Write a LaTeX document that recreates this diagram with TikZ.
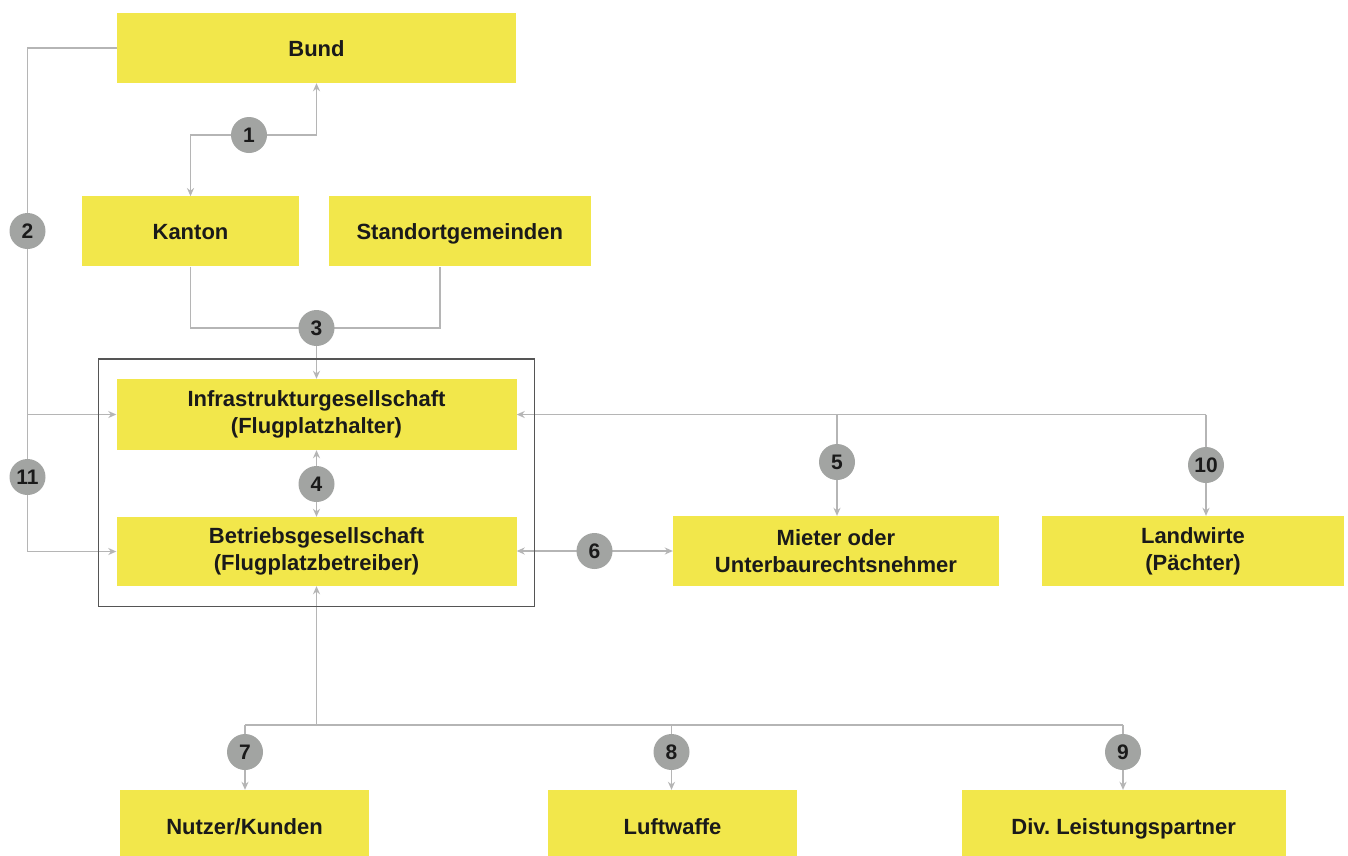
\documentclass[tikz,border=0pt]{standalone}
\usepackage{fontspec}
\setmainfont{Liberation Sans}
\usetikzlibrary{arrows.meta,fit}
\definecolor{boxy}{HTML}{F2E74B}
\definecolor{circg}{HTML}{A2A4A2}
\definecolor{lineg}{HTML}{B5B5B5}
\definecolor{txt}{HTML}{1A1A1A}
\definecolor{frameg}{HTML}{555555}
\pgfdeclarelayer{bg}
\pgfdeclarelayer{paper}
\pgfsetlayers{paper,bg,main}
\tikzset{
  ybox/.style={fill=boxy, draw=none, text=txt, align=center, inner sep=0pt,
    font=\fontsize{22}{27}\selectfont\bfseries},
  oneline/.style={text height=20pt, text depth=3.5pt},
  num/.style={circle, fill=circg, minimum size=36pt, inner sep=0pt, text=txt,
    font=\fontsize{21}{21}\selectfont\bfseries},
  conn/.style={draw=lineg, line width=1.4pt},
  arr/.style={-{Stealth[length=8pt,width=7pt]}},
  frm/.style={draw=frameg, line width=1.4pt, inner xsep=18pt, inner ysep=20pt}
}
\begin{document}
\begin{tikzpicture}[x=1pt,y=-1pt]
\clip (0,0) rectangle (1348,855);
\begin{pgfonlayer}{paper}
\fill[white] (0,0) rectangle (1348,855);
\end{pgfonlayer}
% boxes
\node[ybox, oneline, minimum width=399pt, minimum height=70pt] (bund) at (316.5,48) {Bund};
\node[ybox, oneline, minimum width=217pt, minimum height=70pt] (kanton) at (190.5,231.3) {Kanton};
\node[ybox, oneline, minimum width=262pt, minimum height=70pt] (stand) at (459.8,231.3) {Standortgemeinden};
\node[ybox, minimum width=400pt, minimum height=71pt] (infra) at (316.5,414.5) {Infrastrukturgesellschaft\\(Flugplatzhalter)};
\node[ybox, minimum width=400pt, minimum height=69pt] (betr) at (316.5,551.5) {Betriebsgesellschaft\\(Flugplatzbetreiber)};
\node[ybox, minimum width=326pt, minimum height=70pt] (mieter) at (836,551) {Mieter oder\\Unterbaurechtsnehmer};
\node[ybox, minimum width=302pt, minimum height=70pt] (land) at (1193,551) {Landwirte\\(Pächter)};
\node[ybox, oneline, minimum width=249pt, minimum height=72pt] (nutzer) at (244.5,826) {Nutzer/Kunden};
\node[ybox, oneline, minimum width=249pt, minimum height=72pt] (luft) at (672.5,826) {Luftwaffe};
\node[ybox, oneline, minimum width=324pt, minimum height=72pt] (div) at (1123.7,826) {Div.\ Leistungspartner};
\node[frm, fit=(infra)(betr)] (frame) {};
% numbered circles
\node[num] (c1) at (249,135) {1};
\node[num] (c2) at (27.5,231) {2};
\node[num] (c3) at (316.5,328) {3};
\node[num] (c4) at (316.5,484) {4};
\node[num] (c5) at (837,462) {5};
\node[num] (c6) at (594.5,551) {6};
\node[num] (c7) at (245,752) {7};
\node[num] (c8) at (671.5,752) {8};
\node[num] (c9) at (1123,752) {9};
\node[num] (c10) at (1206,465) {10};
\node[num] (c11) at (27.5,477) {11};
\coordinate (bus) at (316.5,725);
% connectors
\begin{pgfonlayer}{bg}
\draw[conn,arr] (bund.west) -| (c11.center) |- (betr.west);
\draw[conn,arr] (c2.center |- infra.west) -- (infra.west);
\draw[conn,arr] (c1.center) -| (kanton.north);
\draw[conn,arr] (c1.center) -| (bund.south);
\draw[conn] (kanton.south) |- (c3.center) -| ([xshift=-20pt]stand.south);
\draw[conn,arr] (c3.center) -- (infra.north);
\draw[conn,arr] (c4.center) -- (infra.south);
\draw[conn,arr] (c4.center) -- (betr.north);
\draw[conn,arr] (c10.center |- infra.east) -- (infra.east);
\draw[conn,arr] (c10.center |- infra.east) -- (c10.center |- land.north);
\draw[conn,arr] (c5.center |- infra.east) -- (c5.center |- mieter.north);
\draw[conn,arr] (c6.center) -- (betr.east |- c6.center);
\draw[conn,arr] (c6.center) -- (mieter.west |- c6.center);
\draw[conn,arr] (bus) -- (betr.south);
\draw[conn] (c7.center |- bus) -- (c9.center |- bus);
\draw[conn,arr] (c7.center |- bus) -- (c7.center |- nutzer.north);
\draw[conn,arr] (c8.center |- bus) -- (c8.center |- luft.north);
\draw[conn,arr] (c9.center |- bus) -- (c9.center |- div.north);
\end{pgfonlayer}
\end{tikzpicture}
\end{document}
